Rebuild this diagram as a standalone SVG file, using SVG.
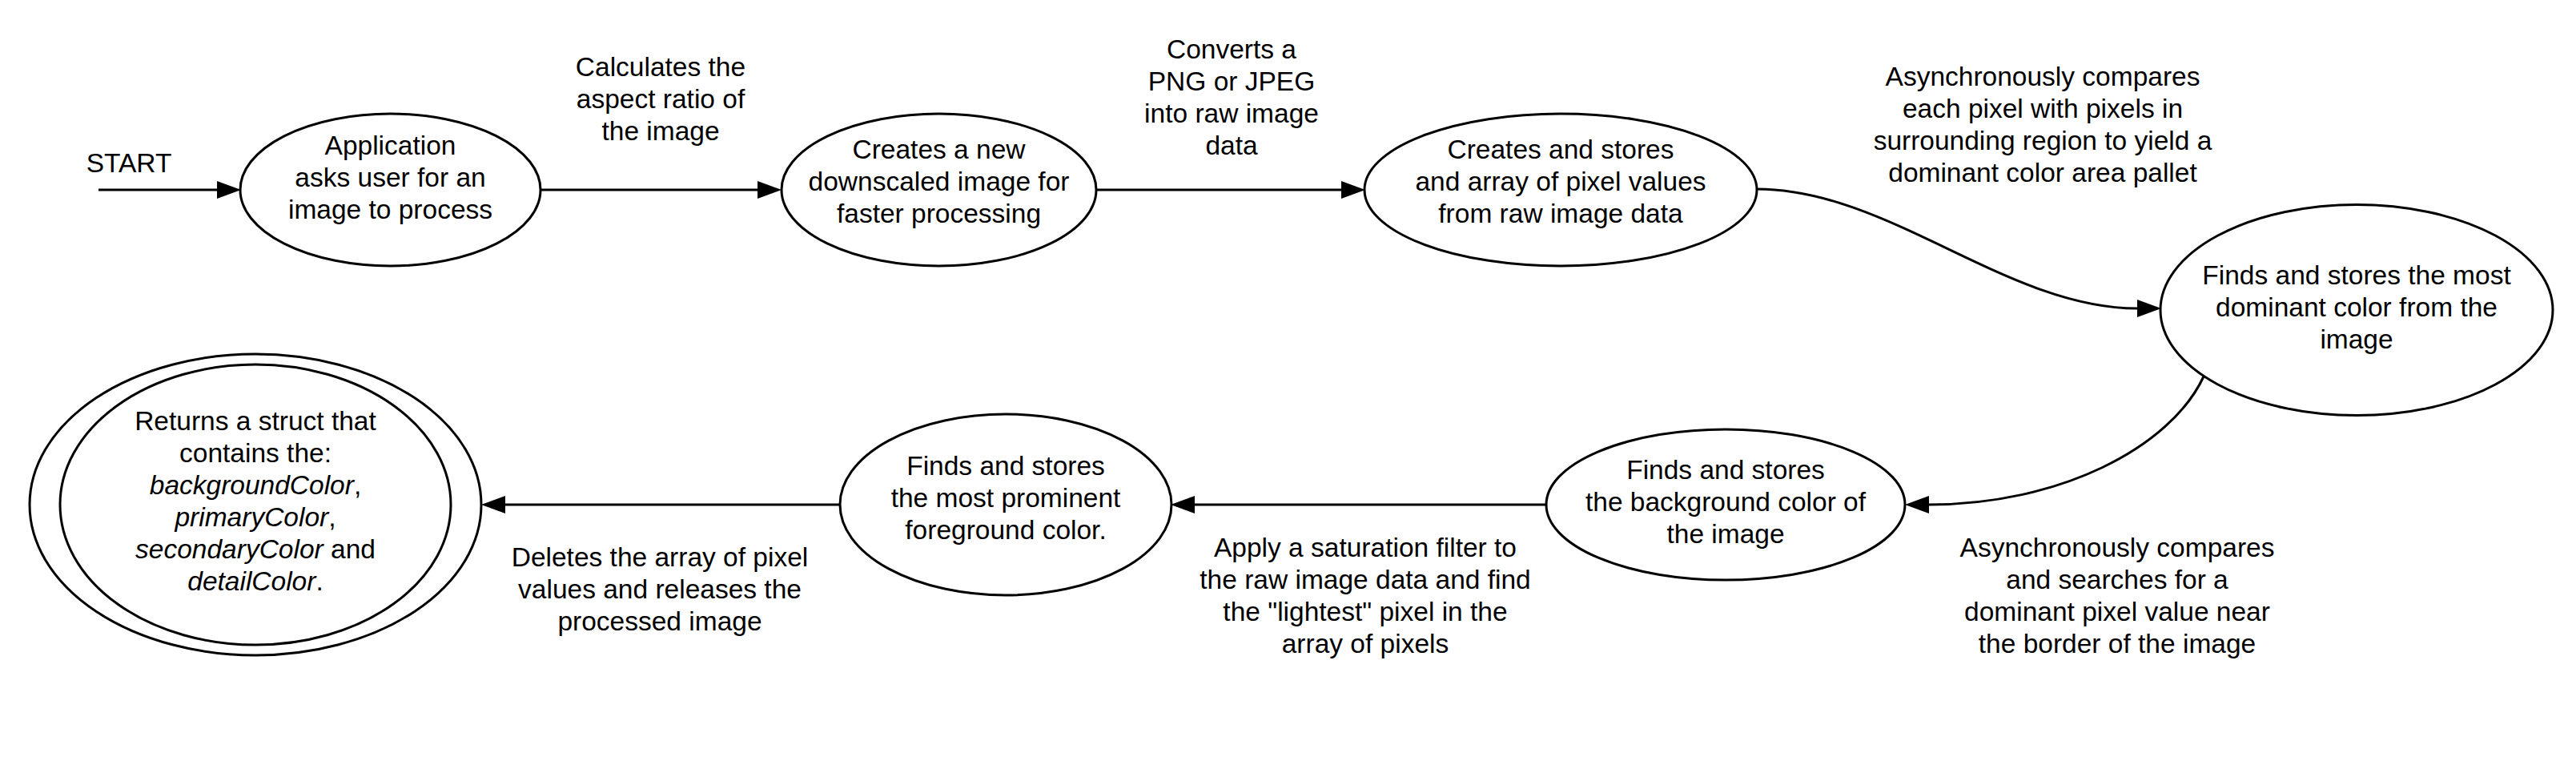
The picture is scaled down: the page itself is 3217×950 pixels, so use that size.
<svg xmlns="http://www.w3.org/2000/svg" width="3217" height="950" viewBox="0 0 3217 950">
<style>
.n{fill:#fff;stroke:#000;stroke-width:3}
.c{fill:none;stroke:#000;stroke-width:3}
text{font-family:"Liberation Sans",Arial,sans-serif;font-size:33.5px;fill:#000;text-anchor:middle}
.i{font-style:italic}
</style>
<defs>
<marker id="ah" markerUnits="userSpaceOnUse" markerWidth="30" markerHeight="22" refX="0" refY="11" orient="auto" overflow="visible">
<path d="M0,0 L30,11 L0,22 z" fill="#000"/>
</marker>
</defs>
<rect width="3217" height="950" fill="#fff"/>
<g id="connectors">
<line class="c" x1="123" y1="237" x2="271" y2="237" marker-end="url(#ah)"/>
<line class="c" x1="675" y1="237" x2="946" y2="237" marker-end="url(#ah)"/>
<line class="c" x1="1369" y1="237" x2="1675" y2="237" marker-end="url(#ah)"/>
<path class="c" d="M2194,236 C2359,236 2506,385 2669,385" marker-end="url(#ah)"/>
<path class="c" d="M2752,470 C2710,560 2570,630 2409,630" marker-end="url(#ah)"/>
<line class="c" x1="1931" y1="630" x2="1492" y2="630" marker-end="url(#ah)"/>
<line class="c" x1="1049" y1="630" x2="631" y2="630" marker-end="url(#ah)"/>
</g>
<g id="labels">
<text x="161" y="215">START</text>
<text x="825"><tspan x="825" y="95">Calculates the</tspan><tspan x="825" y="135">aspect ratio of</tspan><tspan x="825" y="175">the image</tspan></text>
<text x="1538"><tspan x="1538" y="73">Converts a</tspan><tspan x="1538" y="113">PNG or JPEG</tspan><tspan x="1538" y="153">into raw image</tspan><tspan x="1538" y="193">data</tspan></text>
<text x="2551"><tspan x="2551" y="107">Asynchronously compares</tspan><tspan x="2551" y="147">each pixel with pixels in</tspan><tspan x="2551" y="187">surrounding region to yield a</tspan><tspan x="2551" y="227">dominant color area pallet</tspan></text>
<text x="2644"><tspan x="2644" y="695">Asynchronously compares</tspan><tspan x="2644" y="735">and searches for a</tspan><tspan x="2644" y="775">dominant pixel value near</tspan><tspan x="2644" y="815">the border of the image</tspan></text>
<text x="1705"><tspan x="1705" y="695">Apply a saturation filter to</tspan><tspan x="1705" y="735">the raw image data and find</tspan><tspan x="1705" y="775">the "lightest" pixel in the</tspan><tspan x="1705" y="815">array of pixels</tspan></text>
<text x="824"><tspan x="824" y="707">Deletes the array of pixel</tspan><tspan x="824" y="747">values and releases the</tspan><tspan x="824" y="787">processed image</tspan></text>
</g>
<g id="node1">
<ellipse class="n" cx="487.5" cy="237" rx="187.5" ry="95"/>
<text><tspan x="487.5" y="193">Application</tspan><tspan x="487.5" y="233">asks user for an</tspan><tspan x="487.5" y="273">image to process</tspan></text>
</g>
<g id="node2">
<ellipse class="n" cx="1172.5" cy="237" rx="196.5" ry="95"/>
<text><tspan x="1172.5" y="198">Creates a new</tspan><tspan x="1172.5" y="238">downscaled image for</tspan><tspan x="1172.5" y="278">faster processing</tspan></text>
</g>
<g id="node3">
<ellipse class="n" cx="1949" cy="237" rx="245" ry="95"/>
<text><tspan x="1949" y="198">Creates and stores</tspan><tspan x="1949" y="238">and array of pixel values</tspan><tspan x="1949" y="278">from raw image data</tspan></text>
</g>
<g id="node4">
<ellipse class="n" cx="2943" cy="387" rx="245" ry="131.5"/>
<text><tspan x="2943" y="355">Finds and stores the most</tspan><tspan x="2943" y="395">dominant color from the</tspan><tspan x="2943" y="435">image</tspan></text>
</g>
<g id="node5">
<ellipse class="n" cx="2155" cy="630" rx="224" ry="94"/>
<text><tspan x="2155" y="598">Finds and stores</tspan><tspan x="2155" y="638">the background color of</tspan><tspan x="2155" y="678">the image</tspan></text>
</g>
<g id="node6">
<ellipse class="n" cx="1256" cy="630" rx="207" ry="113"/>
<text><tspan x="1256" y="593">Finds and stores</tspan><tspan x="1256" y="633">the most prominent</tspan><tspan x="1256" y="673">foreground color.</tspan></text>
</g>
<g id="node7">
<ellipse class="n" cx="319" cy="630" rx="282" ry="188"/>
<ellipse class="n" cx="319" cy="630" rx="244" ry="175"/>
<text><tspan x="319" y="537">Returns a struct that</tspan><tspan x="319" y="577">contains the:</tspan><tspan x="319" y="617"><tspan class="i">backgroundColor</tspan>,</tspan><tspan x="319" y="657"><tspan class="i">primaryColor</tspan>,</tspan><tspan x="319" y="697"><tspan class="i">secondaryColor</tspan> and</tspan><tspan x="319" y="737"><tspan class="i">detailColor</tspan>.</tspan></text>
</g>
</svg>
